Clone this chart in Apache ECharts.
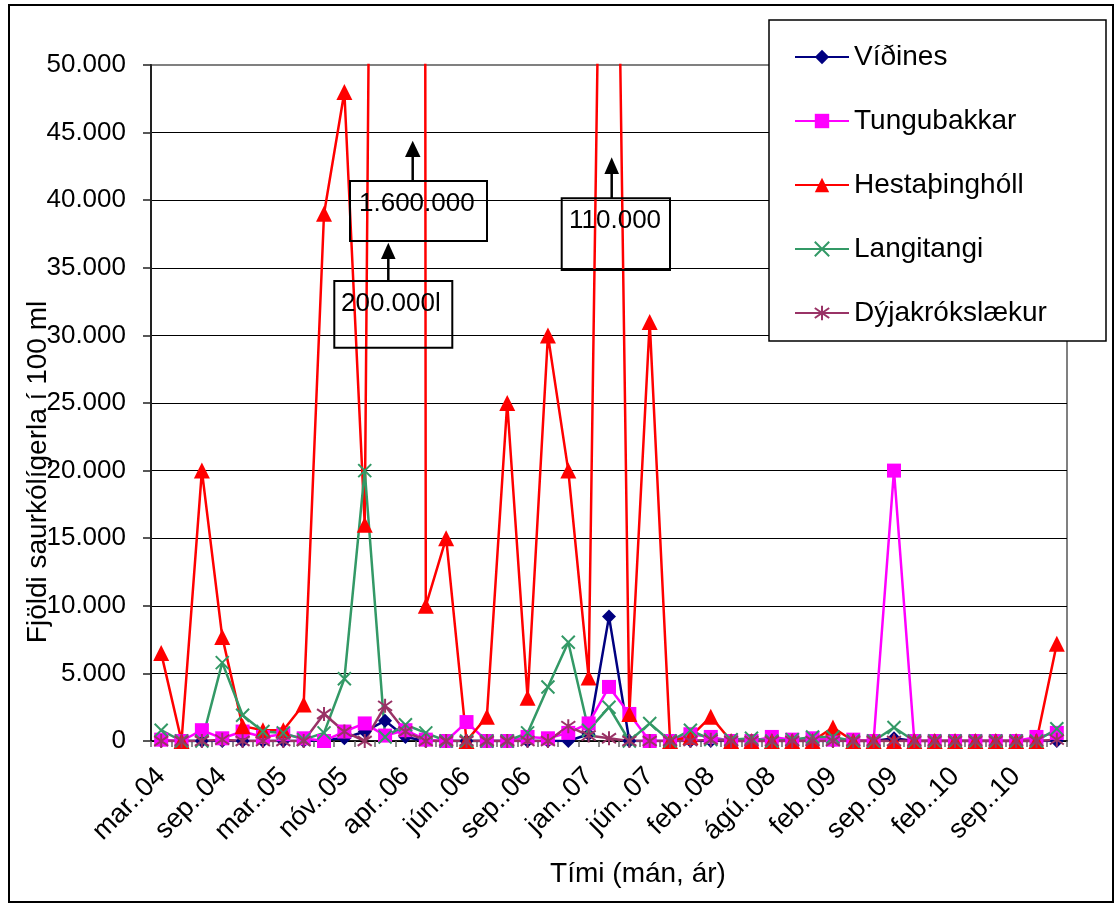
<!DOCTYPE html>
<html><head><meta charset="utf-8">
<script src="https://cdn.jsdelivr.net/npm/echarts@6/dist/echarts.min.js"></script>
<style>html,body{margin:0;padding:0;background:#fff}#c{width:1115px;height:904px}</style>
</head><body><div id="c"></div>
<script>
// ---- data ----
const categories = [
  'mar..04','maí..04','júl..04','sep..04','nóv..04','jan..05','mar..05','maí..05','ágú..05','nóv..05',
  'jan..06','mar..06','apr..06','maí..06','lok maí..06','jún..06','júl..06','ágú..06','sep..06','okt..06',
  'nóv..06','jan..07','feb..07','apr..07','jún..07','ágú..07','okt..07','feb..08','apr..08','jún..08',
  'ágú..08','okt..08','des..08','feb..09','apr..09','jún..09','sep..09','okt..09','des..09','feb..10',
  'apr..10','jún..10','sep..10','okt..10','nóv..10'
];
const seriesNames = ['Víðines','Tungubakkar','Hestaþinghóll','Langitangi','Dýjakrókslækur'];
const vidines = [0,0,0,0,0,0,0,0,100,200,700,1500,300,0,0,0,0,0,0,0,0,500,9200,0,0,0,0,0,0,0,0,0,0,0,0,0,200,0,0,0,0,0,0,0,0];
const tungubakkar = [100,0,800,200,700,300,500,200,0,700,1300,400,800,100,0,1400,0,0,300,200,600,1300,4000,2000,0,0,500,300,0,0,300,100,200,100,100,0,20000,0,0,0,0,0,0,300,600];
const hestathingholl = [6500,0,20000,7700,1100,800,800,2700,39000,48000,16000,200000,1600000,10000,15000,0,1800,25000,3200,30000,20000,4700,110000,2000,31000,0,300,1800,0,0,0,0,0,1000,0,0,0,0,0,0,0,0,0,0,7200];
const langitangi = [800,0,0,5800,1900,700,600,100,600,4600,20000,300,1200,600,0,0,0,0,600,4000,7300,800,2500,0,1300,0,800,100,100,200,0,100,300,300,0,0,1000,0,0,0,0,0,0,0,900];
const dyjakrokslaekur = [0,0,0,100,0,0,0,0,2000,700,0,2600,700,0,0,0,0,0,0,0,1100,400,200,0,0,0,0,100,0,0,0,0,0,0,0,0,0,0,0,0,0,0,0,0,100];
const yTickValues = [0,5000,10000,15000,20000,25000,30000,35000,40000,45000,50000];
const annotations = [
  {text:'1.600.000'},
  {text:'200.000l'},
  {text:'110.000'}
];

const FONT = 'Liberation Sans, Arial, sans-serif';
const chart = echarts.init(document.getElementById('c'));

const xSym = 'path://M0,0L10,10M10,0L0,10';
const starSym = 'path://M5,0L5,10M0,1.5L10,8.5M10,1.5L0,8.5';

function mk(name, data, color, symbol, size, stroke) {
  return {
    name, type: 'line', data,
    symbol, symbolSize: size,
    showSymbol: true, showAllSymbol: true,
    clip: true,
    lineStyle: { color, width: 2.5 },
    itemStyle: stroke ? { color, borderColor: color, borderWidth: 2 } : { color, borderWidth: 0 },
    emphasis: { disabled: true },
    animation: false
  };
}

const splitColors = yTickValues.map((v, i) => i === yTickValues.length - 1 ? '#808080' : '#000');

chart.setOption({
  animation: false,
  backgroundColor: '#fff',
  grid: { left: 151, right: 48, top: 65, bottom: 163, show: true, borderColor: '#808080', borderWidth: 2, backgroundColor: 'transparent' },
  legend: {
    orient: 'vertical', left: 769, top: 20,
    padding: [23, 25, 17, 25],
    itemGap: 36, itemWidth: 54, itemHeight: 18,
    textStyle: { fontSize: 28, fontFamily: FONT, color: '#000' },
    data: seriesNames, z: 10
  },
  xAxis: {
    type: 'category', data: categories, boundaryGap: true,
    axisLine: { lineStyle: { color: '#000', width: 1.5 } },
    axisTick: { show: true, interval: 0, length: 6, lineStyle: { color: '#666', width: 1.5 } },
    axisLabel: { interval: 2, rotate: 45, margin: 31, padding: [30, 0, 0, 0], fontSize: 27, fontFamily: FONT, color: '#000' },
    splitLine: { show: false }
  },
  yAxis: {
    type: 'value', min: 0, max: 50000, interval: 5000,
    axisLine: { show: true, lineStyle: { color: '#222', width: 2 } },
    axisTick: { show: true, length: 8, lineStyle: { color: '#222', width: 1.5 } },
    axisLabel: { margin: 25, fontSize: 26, fontFamily: FONT, color: '#000',
      formatter: v => v === 0 ? '0' : (v / 1000) + '.000' },
    splitLine: { show: true, lineStyle: { color: splitColors, width: 1 } }
  },
  series: [
    mk(seriesNames[0], vidines, '#000080', 'diamond', 14, false),
    mk(seriesNames[1], tungubakkar, '#FF00FF', 'rect', 14, false),
    mk(seriesNames[2], hestathingholl, '#FF0000', 'triangle', 16, false),
    mk(seriesNames[3], langitangi, '#339966', xSym, 13, true),
    mk(seriesNames[4], dyjakrokslaekur, '#993366', starSym, 14, true)
  ],
  graphic: [
    { type: 'rect', z: 0, silent: true, shape: { x: 9, y: 5, width: 1104, height: 897 }, style: { fill: 'none', stroke: '#000', lineWidth: 2 } },
    { type: 'rect', z: 5, silent: true, shape: { x: 769, y: 20, width: 337, height: 321 }, style: { fill: '#fff', stroke: '#000', lineWidth: 1.5 } },
    { type: 'text', z: 5, x: 38, y: 472, rotation: Math.PI / 2, style: { text: 'Fjöldi saurkólígerla í 100 ml', fontSize: 28, fontFamily: FONT, fill: '#000', align: 'center', verticalAlign: 'middle' } },
    { type: 'text', z: 5, x: 638, y: 874, style: { text: 'Tími (mán, ár)', fontSize: 28, fontFamily: FONT, fill: '#000', align: 'center', verticalAlign: 'middle' } },
    // annotation 1: 1.600.000
    { type: 'rect', z: 6, shape: { x: 350, y: 181, width: 137, height: 60 }, style: { fill: 'none', stroke: '#000', lineWidth: 2 } },
    { type: 'text', z: 6, x: 359, y: 204, style: { text: annotations[0].text, fontSize: 26, fontFamily: FONT, fill: '#000', align: 'left', verticalAlign: 'middle' } },
    { type: 'line', z: 6, shape: { x1: 412.7, y1: 181, x2: 412.7, y2: 155 }, style: { stroke: '#000', lineWidth: 2.5 } },
    { type: 'polygon', z: 6, shape: { points: [[412.7, 140.7], [405, 157], [420.5, 157]] }, style: { fill: '#000' } },
    // annotation 2: 200.000l
    { type: 'rect', z: 6, shape: { x: 334.3, y: 281, width: 118, height: 66.7 }, style: { fill: 'none', stroke: '#000', lineWidth: 2 } },
    { type: 'text', z: 6, x: 341, y: 304, style: { text: annotations[1].text, fontSize: 26, fontFamily: FONT, fill: '#000', align: 'left', verticalAlign: 'middle' } },
    { type: 'line', z: 6, shape: { x1: 388.3, y1: 281, x2: 388.3, y2: 257 }, style: { stroke: '#000', lineWidth: 2.5 } },
    { type: 'polygon', z: 6, shape: { points: [[388.3, 242.7], [381, 259], [395.6, 259]] }, style: { fill: '#000' } },
    // annotation 3: 110.000
    { type: 'rect', z: 6, shape: { x: 561.7, y: 198.3, width: 108.3, height: 71.7 }, style: { fill: 'none', stroke: '#000', lineWidth: 2 } },
    { type: 'text', z: 6, x: 569, y: 221, style: { text: annotations[2].text, fontSize: 26, fontFamily: FONT, fill: '#000', align: 'left', verticalAlign: 'middle' } },
    { type: 'line', z: 6, shape: { x1: 611.7, y1: 198.3, x2: 611.7, y2: 172 }, style: { stroke: '#000', lineWidth: 2.5 } },
    { type: 'polygon', z: 6, shape: { points: [[611.7, 157.3], [604.4, 174], [619, 174]] }, style: { fill: '#000' } }
  ]
});
</script>
</body></html>
